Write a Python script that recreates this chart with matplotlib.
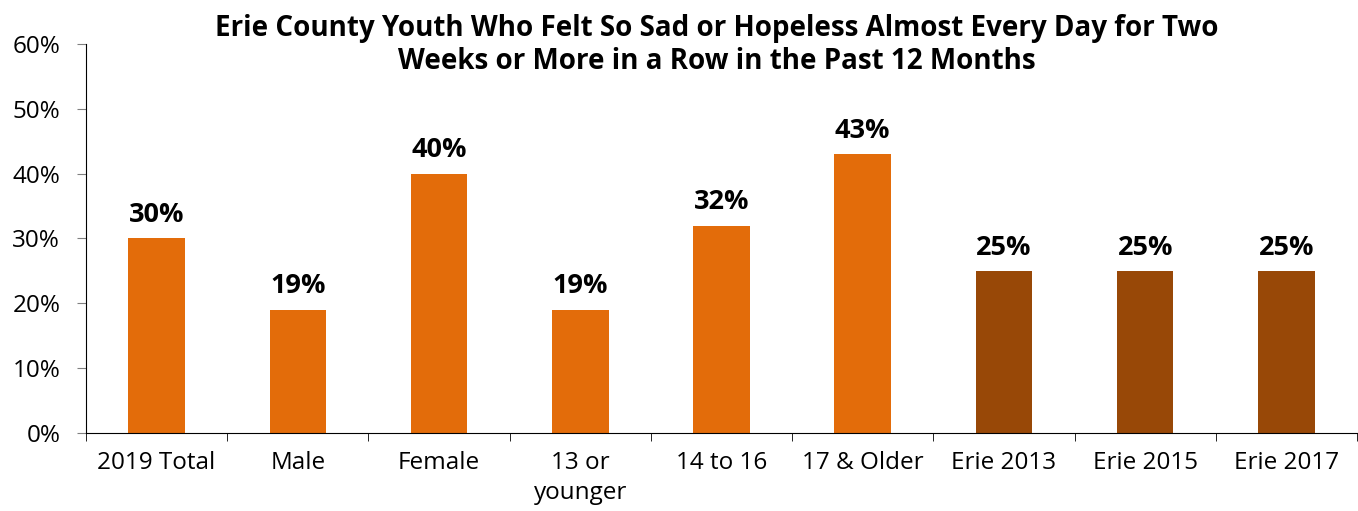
import matplotlib.pyplot as plt
import numpy as np

categories = ["2019 Total", "Male", "Female", "13 or\nyounger", "14 to 16",
              "17 & Older", "Erie 2013", "Erie 2015", "Erie 2017"]
values = [30, 19, 40, 19, 32, 43, 25, 25, 25]
colors = ["#E36C0A"] * 6 + ["#984807"] * 3

plt.rcParams['font.family'] = ['Open Sans', 'DejaVu Sans']

fig = plt.figure(figsize=(13.58, 5.11), dpi=100)
ax = fig.add_axes([0.0633, 0.1526, 0.9360, 0.7614])

x = np.arange(len(categories))
bars = ax.bar(x, values, width=0.4, color=colors)
for xi, v in zip(x, values):
    ax.text(xi, v + 1.6, f"{v}%", ha="center", va="bottom",
            fontsize=19.5, fontweight="bold")

ax.set_xlim(-0.5, len(categories) - 0.5)
ax.set_ylim(0, 60)
ax.set_yticks(range(0, 61, 10))
ax.set_yticklabels([f"{t}%" for t in range(0, 61, 10)], fontsize=17.5)
ax.set_xticks(x)
ax.set_xticklabels(categories, fontsize=17.5, linespacing=1.35)
ax.tick_params(axis="x", length=0, pad=13)
ax.set_xticks(np.arange(-0.5, len(categories)), minor=True)
ax.tick_params(axis="x", which="minor", length=6, direction="out", color="black")
ax.tick_params(axis="y", length=6.5, direction="out", color="#808080", pad=12)

for s in ["top", "right"]:
    ax.spines[s].set_visible(False)
ax.spines["left"].set_color("black")
ax.spines["bottom"].set_color("black")

fig.text(0.528, 0.912,
         "Erie County Youth Who Felt So Sad or Hopeless Almost Every Day for Two\n"
         "Weeks or More in a Row in the Past 12 Months",
         ha="center", va="center", fontsize=20, fontweight="bold", linespacing=1.15)

fig.savefig("out.png", dpi=100)
